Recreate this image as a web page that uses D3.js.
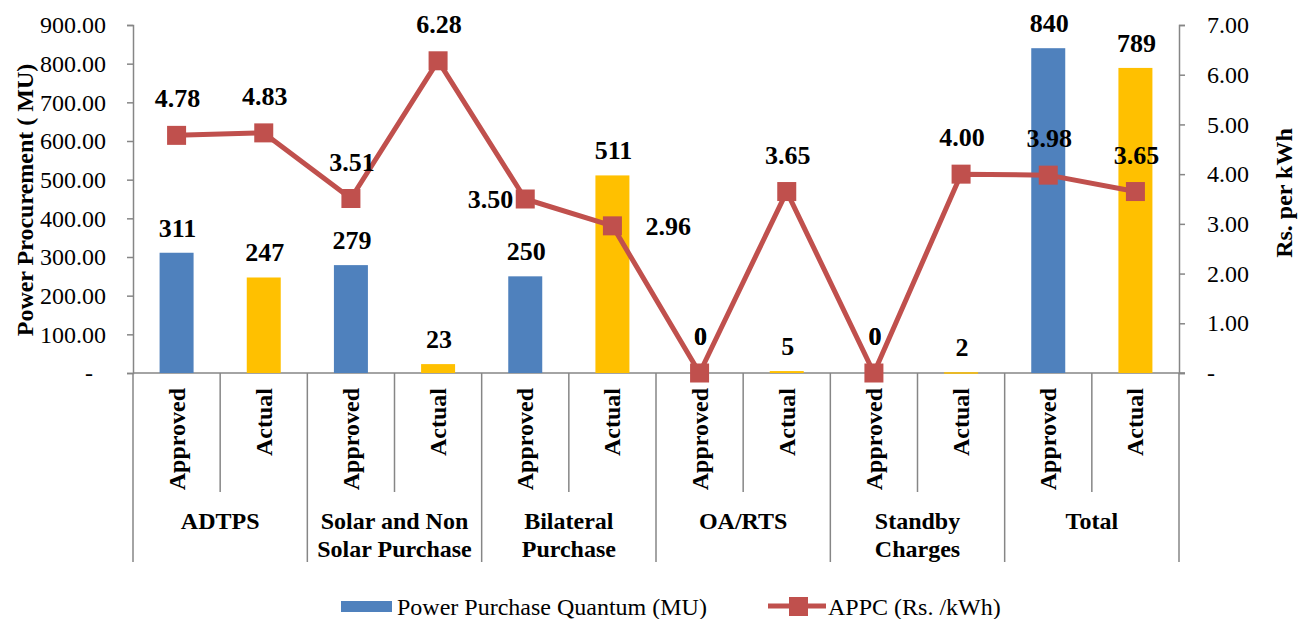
<!DOCTYPE html>
<html>
<head>
<meta charset="utf-8">
<script src="https://cdn.jsdelivr.net/npm/d3@7"></script>
<style>
  body { margin: 0; background: #fff; }
  svg { font-family: "Liberation Serif", "Times New Roman", serif; }
  .axis path, .axis line { stroke: #868686; stroke-width: 1.5; }
  .axis text { font-size: 24px; fill: #000; font-family: "Liberation Serif", "Times New Roman", serif; }
</style>
</head>
<body>
<svg width="1298" height="619"></svg>
<script>
// chart data
const groups = [["ADTPS"], ["Solar and Non", "Solar Purchase"], ["Bilateral", "Purchase"], ["OA/RTS"], ["Standby", "Charges"], ["Total"]];
const subCats = ["Approved", "Actual"];
const quantum = [311, 247, 279, 23, 250, 511, 0, 5, 0, 2, 840, 789];
const appc = [4.78, 4.83, 3.51, 6.28, 3.50, 2.96, 0, 3.65, 0, 4.00, 3.98, 3.65];
const leftTicks = [0, 100, 200, 300, 400, 500, 600, 700, 800, 900];
const rightTicks = [0, 1, 2, 3, 4, 5, 6, 7];
const legendNames = ["Power Purchase Quantum (MU)", "APPC (Rs. /kWh)"];

// where each APPC label sits relative to its marker
const appcLabelPos = ["above", "above", "above", "above", "left", "right", "above", "above", "above", "above", "above", "above"];

const blue = "#4F81BD", gold = "#FFC000", red = "#C0504D";

let svg = d3.select("svg");
let margin = {left: 133, right: 1179, top: 25, bottom: 373};

let idx = d3.range(quantum.length);
let x = d3.scaleBand().domain(idx).range([margin.left, margin.right]).paddingInner(0);
let yL = d3.scaleLinear().domain([0, 900]).range([margin.bottom, margin.top]);
let yR = d3.scaleLinear().domain([0, 7]).range([margin.bottom, margin.top]);

let fmt = d => d === 0 ? "-" : d3.format(".2f")(d);

// left axis
let gl = svg.append("g").attr("class", "axis")
  .attr("transform", "translate(" + margin.left + ",0)")
  .call(d3.axisLeft(yL).tickValues(leftTicks).tickFormat(fmt).tickSize(6).tickSizeOuter(6).tickPadding(21));
gl.selectAll(".tick text").filter(d => d === 0).attr("dx", -13);

// right axis
svg.append("g").attr("class", "axis")
  .attr("transform", "translate(" + margin.right + ",0)")
  .call(d3.axisRight(yR).tickValues(rightTicks).tickFormat(fmt).tickSize(6).tickSizeOuter(6).tickPadding(22));

// bottom axis line
svg.append("line")
  .attr("x1", margin.left).attr("x2", margin.right + 6)
  .attr("y1", margin.bottom).attr("y2", margin.bottom)
  .attr("stroke", "#868686").attr("stroke-width", 1.5);

// category dividers
for (let i = 0; i <= quantum.length; i++) {
  let xx = i < quantum.length ? x(i) : margin.right;
  svg.append("line")
    .attr("x1", xx).attr("x2", xx)
    .attr("y1", margin.bottom).attr("y2", i % 2 === 0 ? 562 : 492)
    .attr("stroke", "#868686").attr("stroke-width", 1.5);
}

// sub category labels
svg.selectAll("text.sub")
  .data(idx)
  .enter().append("text")
  .attr("class", "sub")
  .attr("transform", d => "translate(" + (x(d) + x.bandwidth() / 2 + 8) + ",388) rotate(-90)")
  .attr("text-anchor", "end")
  .style("font-size", "24px").style("font-weight", "bold")
  .text(d => subCats[d % 2]);

// group labels
groups.forEach((g, gi) => {
  let cx = x(gi * 2) + x.bandwidth();
  g.forEach((line, li) => {
    svg.append("text")
      .attr("x", cx).attr("y", 529 + li * 28)
      .attr("text-anchor", "middle")
      .style("font-size", "24px").style("font-weight", "bold")
      .text(line);
  });
});

// bars
let bw = x.bandwidth() * 0.39;
svg.selectAll("rect.bar")
  .data(quantum)
  .enter().append("rect")
  .attr("class", "bar")
  .attr("x", (d, i) => x(i) + x.bandwidth() / 2 - bw / 2)
  .attr("y", d => yL(d))
  .attr("width", bw)
  .attr("height", d => Math.max(yL(0) - yL(d), d > 0 ? 1.5 : 0))
  .attr("fill", (d, i) => i % 2 === 0 ? blue : gold);

// bar labels (zero labels share the spot with the APPC zero label, as in the source)
svg.selectAll("text.barlabel")
  .data(quantum)
  .enter().append("text")
  .attr("class", "barlabel")
  .attr("x", (d, i) => x(i) + x.bandwidth() / 2 + 1)
  .attr("y", d => d === 0 ? yL(d) - 28 : yL(d) - 16)
  .attr("text-anchor", "middle")
  .style("font-size", "26px").style("font-weight", "bold")
  .text(d => d3.format(".0f")(d));

// APPC line
let line = d3.line()
  .x((d, i) => x(i) + x.bandwidth() / 2)
  .y(d => yR(d));
svg.append("path")
  .datum(appc)
  .attr("d", line)
  .attr("fill", "none")
  .attr("stroke", red)
  .attr("stroke-width", 5)
  .attr("stroke-linejoin", "round");

let ms = 19;
svg.selectAll("rect.marker")
  .data(appc)
  .enter().append("rect")
  .attr("class", "marker")
  .attr("x", (d, i) => x(i) + x.bandwidth() / 2 - ms / 2)
  .attr("y", d => yR(d) - ms / 2)
  .attr("width", ms).attr("height", ms)
  .attr("fill", red);

// APPC labels
svg.selectAll("text.appclabel")
  .data(appc)
  .enter().append("text")
  .attr("class", "appclabel")
  .attr("x", (d, i) => {
    let cx = x(i) + x.bandwidth() / 2;
    if (appcLabelPos[i] === "left") return cx - 12;
    if (appcLabelPos[i] === "right") return cx + 33;
    return cx + 1;
  })
  .attr("y", (d, i) => appcLabelPos[i] === "above" ? yR(d) - 28 : yR(d) + 9)
  .attr("text-anchor", (d, i) => appcLabelPos[i] === "left" ? "end" : appcLabelPos[i] === "right" ? "start" : "middle")
  .style("font-size", "26px").style("font-weight", "bold")
  .text(d => d === 0 ? "0" : d3.format(".2f")(d));

// axis titles
svg.append("text")
  .attr("transform", "translate(33,200) rotate(-90)")
  .attr("text-anchor", "middle")
  .style("font-size", "24px").style("font-weight", "bold")
  .text("Power Procurement ( MU)");
svg.append("text")
  .attr("transform", "translate(1292,193) rotate(-90)")
  .attr("text-anchor", "middle")
  .style("font-size", "24px").style("font-weight", "bold")
  .text("Rs. per kWh");

// legend
let lg = svg.append("g");
lg.append("rect").attr("x", 341).attr("y", 601).attr("width", 51).attr("height", 11).attr("fill", blue);
lg.append("text").attr("x", 397).attr("y", 615).style("font-size", "24px").text(legendNames[0]);
lg.append("line").attr("x1", 768).attr("x2", 826).attr("y1", 606).attr("y2", 606)
  .attr("stroke", red).attr("stroke-width", 5);
lg.append("rect").attr("x", 789).attr("y", 597).attr("width", 19).attr("height", 19).attr("fill", red);
lg.append("text").attr("x", 828).attr("y", 615).style("font-size", "24px").text(legendNames[1]);
</script>
</body>
</html>
